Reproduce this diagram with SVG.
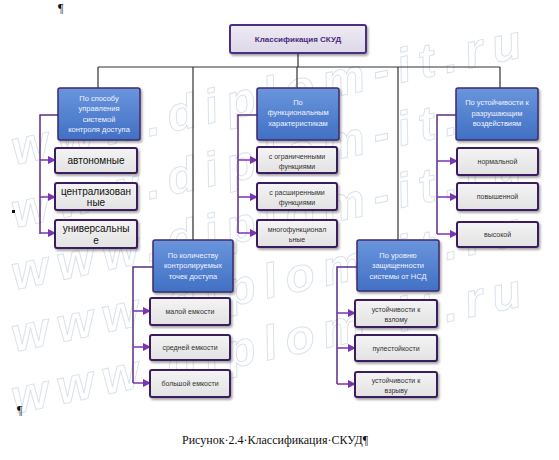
<svg xmlns="http://www.w3.org/2000/svg" width="559" height="460" viewBox="0 0 559 460">
<defs>
<linearGradient id="gBlue" x1="0" y1="0" x2="0" y2="1"><stop offset="0" stop-color="#6a95dc"/><stop offset="1" stop-color="#4170c4"/></linearGradient>
<linearGradient id="gGray" x1="0" y1="0" x2="0" y2="1"><stop offset="0" stop-color="#f4f4f4"/><stop offset="1" stop-color="#e2e2e2"/></linearGradient>
<linearGradient id="gTitle" x1="0" y1="0" x2="0" y2="1"><stop offset="0" stop-color="#eeebf4"/><stop offset="1" stop-color="#dcd7e8"/></linearGradient>
<filter id="sh" x="-10%" y="-10%" width="130%" height="140%"><feDropShadow dx="1.5" dy="2" stdDeviation="1.2" flood-color="#000" flood-opacity="0.35"/></filter>
<marker id="arr" markerWidth="8" markerHeight="8" refX="7" refY="4" orient="auto" markerUnits="userSpaceOnUse"><path d="M0,0 L8,4 L0,8 Z" fill="#7a35b0"/></marker>
<style>
.hd{fill:url(#gBlue);stroke:#3e2a6e;stroke-width:1.5;filter:url(#sh)}
.ch{fill:url(#gGray);stroke:#3a1f5f;stroke-width:2;filter:url(#sh)}
.ht{font-family:"Liberation Sans",Arial,sans-serif;font-size:7.5px;fill:#eef3ff;text-anchor:middle}
.ct{font-family:"Liberation Sans",Arial,sans-serif;font-size:7px;fill:#333;text-anchor:middle}
.lt{font-family:"Liberation Sans",Arial,sans-serif;font-size:10px;fill:#111;text-anchor:middle}
.tree{fill:none;stroke:#333;stroke-width:1.2}
.con{fill:none;stroke:#5a2d85;stroke-width:1.5}
.ar{fill:none;stroke:#7a35b0;stroke-width:1.5;marker-end:url(#arr)}
.wm{font-family:"Liberation Sans",Arial,sans-serif;font-style:italic;font-weight:bold;font-size:48px;fill:none;stroke:#a3b7cc;stroke-width:1;opacity:0.4}
.pm{font-family:"Liberation Serif","Times New Roman",serif;font-size:12px;fill:#111}
</style>
</defs>
<rect width="559" height="460" fill="#fff"/>

<g id="watermark">
<text class="wm" transform="translate(15,165) rotate(-12)" textLength="520" lengthAdjust="spacing">www.diplom-it.ru</text>
<text class="wm" transform="translate(15,228) rotate(-12)" textLength="520" lengthAdjust="spacing">www.diplom-it.ru</text>
<text class="wm" transform="translate(15,290) rotate(-12)" textLength="520" lengthAdjust="spacing">www.diplom-it.ru</text>
<text class="wm" transform="translate(15,352) rotate(-12)" textLength="520" lengthAdjust="spacing">www.diplom-it.ru</text>
<text class="wm" transform="translate(15,414) rotate(-12)" textLength="520" lengthAdjust="spacing">www.diplom-it.ru</text>
</g>

<g id="connectors">
<path class="tree" d="M298,53 V67 M98,67 H500 M98,67 V88 M193,67 V240 M297,67 V88 M398,67 V240 M500,67 V88"/>
<path class="con" d="M58,115 H40 V234"/>
<path class="ar" d="M40,160 H55"/><path class="ar" d="M40,197 H55"/><path class="ar" d="M40,233 H55"/>
<path class="con" d="M257,115 H238 V233"/>
<path class="ar" d="M238,160 H257"/><path class="ar" d="M238,197 H257"/><path class="ar" d="M238,233 H257"/>
<path class="con" d="M456,115 H437 V234"/>
<path class="ar" d="M437,161 H457"/><path class="ar" d="M437,197 H457"/><path class="ar" d="M437,234 H457"/>
<path class="con" d="M153,267 H133 V383"/>
<path class="ar" d="M133,311 H150"/><path class="ar" d="M133,347 H150"/><path class="ar" d="M133,383 H150"/>
<path class="con" d="M357,267 H337 V384"/>
<path class="ar" d="M337,313 H355"/><path class="ar" d="M337,348 H355"/><path class="ar" d="M337,384 H355"/>
</g>

<g id="title">
<rect x="230" y="25" width="136" height="28" rx="2" fill="url(#gTitle)" stroke="#4b2f80" stroke-width="2" filter="url(#sh)"/>
<text x="298" y="41.5" font-family="Liberation Sans,Arial,sans-serif" font-size="8px" font-weight="bold" fill="#4b2a7a" text-anchor="middle">Классификация СКУД</text>
</g>

<g id="h1"><rect class="hd" x="58" y="88" width="82" height="52" rx="2"/>
<text class="ht" x="99" y="100.5">По способу</text><text class="ht" x="99" y="111">управления</text><text class="ht" x="99" y="121.5">системой</text><text class="ht" x="99" y="132">контроля доступа</text></g>
<g id="c11"><rect class="ch" x="55" y="148" width="82" height="25" rx="2"/><text class="lt" x="96" y="164">автономные</text></g>
<g id="c12"><rect class="ch" x="55" y="183" width="82" height="27" rx="2"/><text class="lt" x="96" y="195">централизован</text><text class="lt" x="96" y="206">ные</text></g>
<g id="c13"><rect class="ch" x="55" y="220" width="82" height="28" rx="2"/><text class="lt" x="96" y="232">универсальны</text><text class="lt" x="96" y="243.5">е</text></g>

<g id="h2"><rect class="hd" x="257" y="88" width="82" height="52" rx="2"/>
<text class="ht" x="298" y="104.5">По</text><text class="ht" x="298" y="115">функциональным</text><text class="ht" x="298" y="125.5">характеристикам</text></g>
<g id="c21"><rect class="ch" x="257" y="147" width="80" height="26" rx="2"/><text class="ct" x="297" y="158.5">с ограниченными</text><text class="ct" x="297" y="168.5">функциями</text></g>
<g id="c22"><rect class="ch" x="257" y="183" width="80" height="27" rx="2"/><text class="ct" x="297" y="195">с расширенными</text><text class="ct" x="297" y="205">функциями</text></g>
<g id="c23"><rect class="ch" x="257" y="220" width="80" height="27" rx="2"/><text class="ct" x="297" y="232">многофункционал</text><text class="ct" x="297" y="242">ьные</text></g>

<g id="h3"><rect class="hd" x="456" y="88" width="82" height="52" rx="2"/>
<text class="ht" x="497" y="105">По устойчивости к</text><text class="ht" x="497" y="115.5">разрушающим</text><text class="ht" x="497" y="126">воздействиям</text></g>
<g id="c31"><rect class="ch" x="457" y="148" width="81" height="27" rx="2"/><text class="ct" x="497.5" y="164">нормальной</text></g>
<g id="c32"><rect class="ch" x="457" y="183" width="81" height="27" rx="2"/><text class="ct" x="497.5" y="199">повышенной</text></g>
<g id="c33"><rect class="ch" x="457" y="222" width="81" height="25" rx="2"/><text class="ct" x="497.5" y="237">высокой</text></g>

<g id="h4"><rect class="hd" x="153" y="240" width="80" height="52" rx="2"/>
<text class="ht" x="193" y="257.5">По количеству</text><text class="ht" x="193" y="268">контролируемых</text><text class="ht" x="193" y="278.5">точек доступа</text></g>
<g id="c41"><rect class="ch" x="150" y="298" width="80" height="27" rx="2"/><text class="ct" x="190" y="314">малой емкости</text></g>
<g id="c42"><rect class="ch" x="150" y="335" width="80" height="25" rx="2"/><text class="ct" x="190" y="350">средней емкости</text></g>
<g id="c43"><rect class="ch" x="150" y="370" width="80" height="27" rx="2"/><text class="ct" x="190" y="386">большой емкости</text></g>

<g id="h5"><rect class="hd" x="357" y="240" width="82" height="51" rx="2"/>
<text class="ht" x="398" y="257.5">По уровню</text><text class="ht" x="398" y="268">защищенности</text><text class="ht" x="398" y="278.5">системы от НСД</text></g>
<g id="c51"><rect class="ch" x="355" y="300" width="82" height="27" rx="2"/><text class="ct" x="396" y="311.5">устойчивости к</text><text class="ct" x="396" y="321.5">взлому</text></g>
<g id="c52"><rect class="ch" x="355" y="335" width="82" height="26" rx="2"/><text class="ct" x="396" y="350.5">пулестойкости</text></g>
<g id="c53"><rect class="ch" x="355" y="372" width="82" height="25" rx="2"/><text class="ct" x="396" y="382.5">устойчивости к</text><text class="ct" x="396" y="392.5">взрыву</text></g>

<g id="marks">
<text class="pm" x="58" y="12">¶</text>
<rect x="12" y="210" width="3" height="3" fill="#111"/>
<text class="pm" x="17" y="414">¶</text>
<text class="pm" x="182" y="444">Рисунок·2.4·Классификация·СКУД¶</text>
</g>
</svg>
